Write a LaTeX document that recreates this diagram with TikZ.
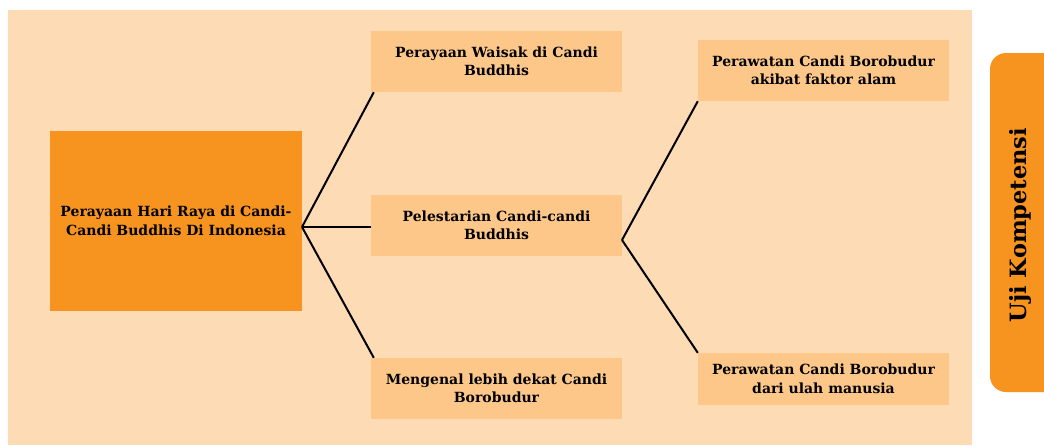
\documentclass[tikz,border=0pt]{standalone}
\usepackage{fontspec}
\setmainfont{DejaVu Serif}
\definecolor{bgpeach}{HTML}{FDDBB5}
\definecolor{boxpeach}{HTML}{FCC789}
\definecolor{mainorange}{HTML}{F7941F}
\begin{document}
\begin{tikzpicture}[x=1pt,y=-1pt,
  sub/.style={fill=boxpeach,draw=none,minimum width=251pt,minimum height=61pt,align=center,font=\bfseries\fontsize{14}{18.5}\selectfont,inner sep=0pt},
  link/.style={line width=2pt,black}]
\useasboundingbox (0,0) rectangle (1044,445);
\fill[white] (0,0) rectangle (1044,445);
\fill[bgpeach] (8,10) rectangle (972,445);
% tab
\fill[mainorange,rounded corners=16pt] (990,53) rectangle (1070,392);
\node[rotate=90,font=\bfseries\fontsize{22.5}{26}\selectfont] (tab) at (1020,225) {Uji Kompetensi};
% main
\node[fill=mainorange,minimum width=252pt,minimum height=180pt,align=center,inner sep=0pt,font=\bfseries\fontsize{14}{18.5}\selectfont] (main) at (176,221) {Perayaan Hari Raya di Candi-\\Candi Buddhis Di Indonesia};
\node[sub] (b1) at (496.5,61.5) {Perayaan Waisak di Candi\\Buddhis};
\node[sub] (b2) at (496.5,225.5) {Pelestarian Candi-candi\\Buddhis};
\node[sub] (b3) at (496.5,388.5) {Mengenal lebih dekat Candi\\Borobudur};
\node[sub] (b4) at (823.5,70.5) {Perawatan Candi Borobudur\\akibat faktor alam};
\node[sub,minimum height=52pt] (b5) at (823.5,379) {Perawatan Candi Borobudur\\dari ulah manusia};
\coordinate (j1) at (302,227);
\coordinate (j2) at (622,240);
\draw[link] (j1) -- ([xshift=3pt]b1.south west);
\draw[link] (j1) -- (b2.west |- j1);
\draw[link] (j1) -- ([xshift=3pt]b3.north west);
\draw[link] (j2) -- (b4.south west);
\draw[link] (j2) -- (b5.north west);
\end{tikzpicture}
\end{document}
